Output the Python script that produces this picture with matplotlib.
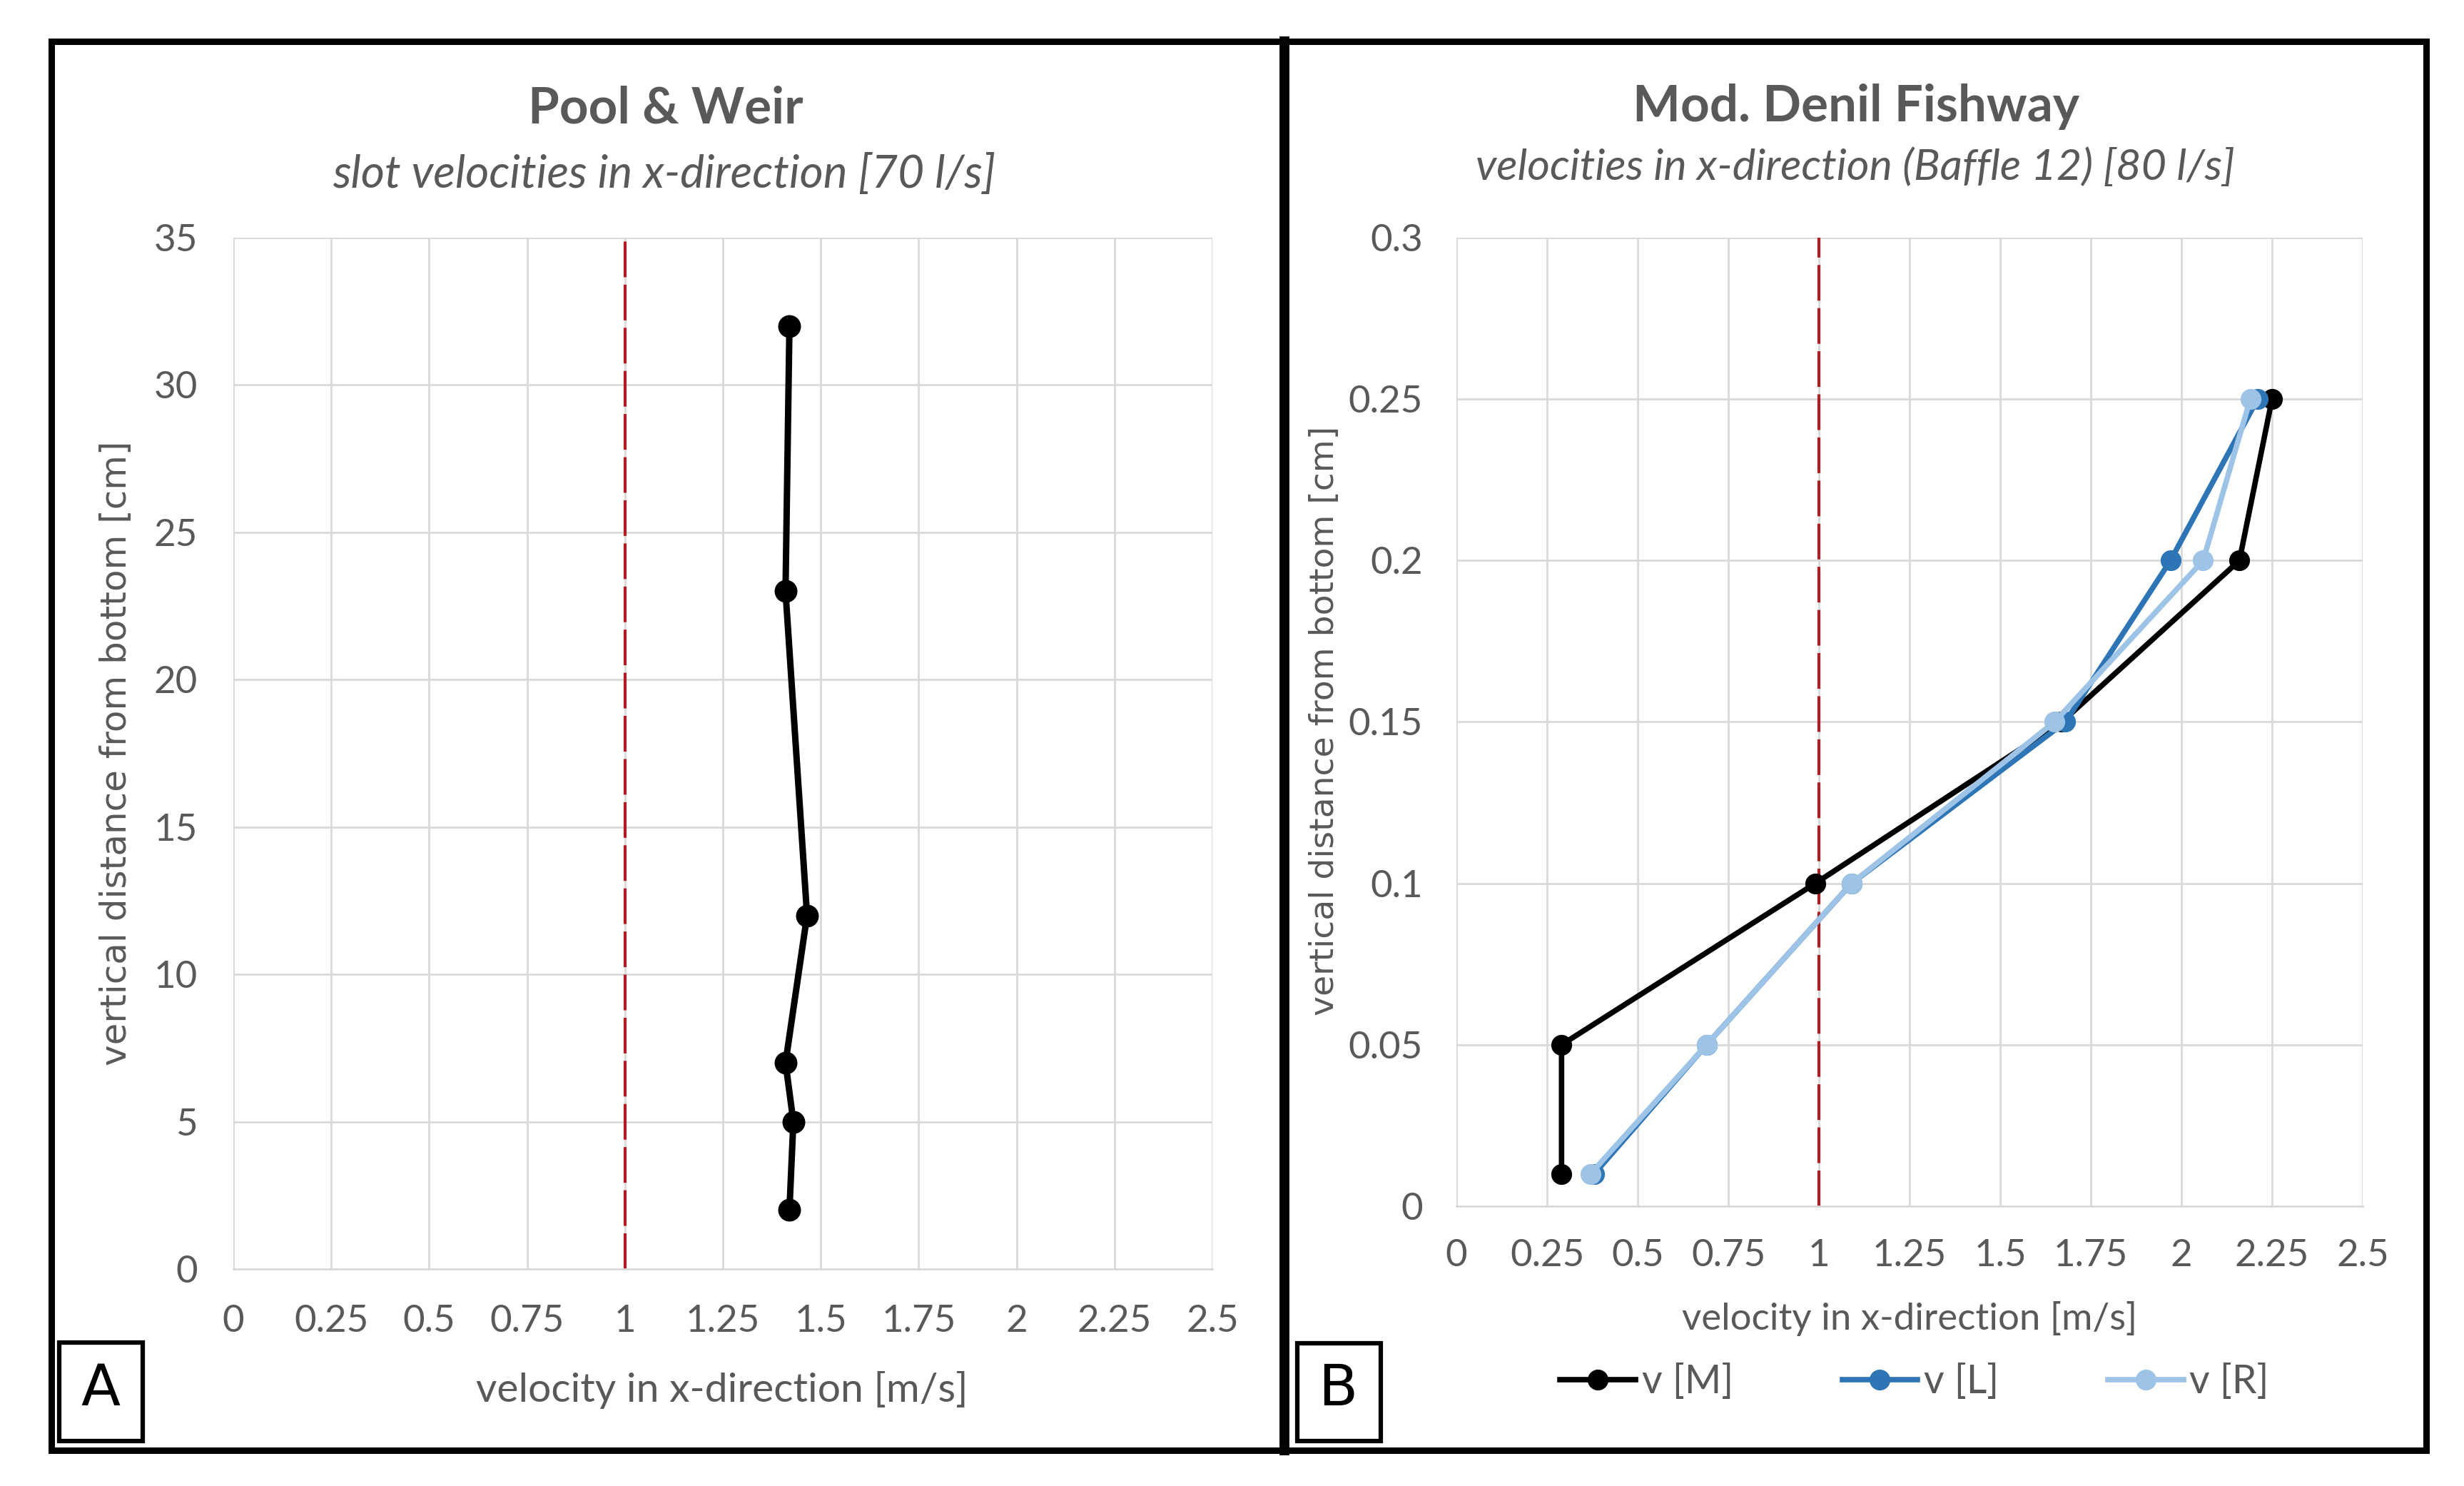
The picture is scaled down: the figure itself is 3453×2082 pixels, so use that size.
import matplotlib
matplotlib.use("Agg")
import matplotlib.pyplot as plt
from matplotlib.patches import Rectangle
from matplotlib.lines import Line2D

# ---------------- data ----------------
# Panel A: Pool & Weir
a_height = [2, 5, 7, 12, 23, 32]
a_velocity = [1.42, 1.43, 1.41, 1.465, 1.41, 1.42]
a_yticks = [0, 5, 10, 15, 20, 25, 30, 35]
a_ytick_labels = ["0", "5", "10", "15", "20", "25", "30", "35"]

# Panel B: Mod. Denil Fishway
b_height = [0.01, 0.05, 0.10, 0.15, 0.20, 0.25]
b_v_M = [0.29, 0.29, 0.99, 1.67, 2.16, 2.25]
b_v_L = [0.38, 0.69, 1.09, 1.68, 1.97, 2.21]
b_v_R = [0.37, 0.69, 1.09, 1.65, 2.06, 2.19]
b_series_names = ["v [M]", "v [L]", "v [R]"]
b_yticks = [0, 0.05, 0.10, 0.15, 0.20, 0.25, 0.30]
b_ytick_labels = ["0", "0.05", "0.1", "0.15", "0.2", "0.25", "0.3"]

x_ticks = [0, 0.25, 0.5, 0.75, 1, 1.25, 1.5, 1.75, 2, 2.25, 2.5]
x_tick_labels = ["0", "0.25", "0.5", "0.75", "1", "1.25", "1.5", "1.75", "2", "2.25", "2.5"]
threshold_velocity = 1.0

# ---------------- style ----------------
TXT = "#595959"
GRID = "#D9D9D9"
RED = "#B01E23"
C_M = "#000000"
C_L = "#2E75B6"
C_R = "#9DC3E6"
FONT = "Lato"
WIDE = "DejaVu Sans"

W, H = 3453, 2082
fig = plt.figure(figsize=(W / 100, H / 100), dpi=100)
fig.patch.set_facecolor("white")


def fx(px):
    return px / W


def fy(py):
    return 1 - py / H


def style_axes(ax, yticks, ylabels, ypad, xpad):
    ax.set_xlim(0, 2.5)
    ax.set_ylim(yticks[0], yticks[-1])
    ax.set_xticks(x_ticks)
    ax.set_xticklabels(x_tick_labels, fontfamily=FONT)
    ax.set_yticks(yticks)
    ax.set_yticklabels(ylabels, fontfamily=FONT)
    ax.grid(True, color=GRID, linewidth=2.0)
    ax.set_axisbelow(True)
    for s in ax.spines.values():
        s.set_visible(False)
    ax.spines["bottom"].set_visible(True)
    ax.spines["bottom"].set_color(GRID)
    ax.spines["bottom"].set_linewidth(2.0)
    ax.tick_params(axis="both", length=0, labelsize=38, labelcolor=TXT)
    ax.tick_params(axis="y", pad=ypad)
    ax.tick_params(axis="x", pad=xpad)
    ax.axvline(threshold_velocity, color=RED, linewidth=3.0,
               dashes=(12, 2.5), zorder=2)


# ---------------- Panel A ----------------
axA = fig.add_axes([fx(327), fy(1778), fx(1699 - 327), (1778 - 333) / H])
style_axes(axA, a_yticks, a_ytick_labels, ypad=36, xpad=36)
axA.plot(a_velocity, a_height, color=C_M, linewidth=6.5, marker="o",
         markersize=22, zorder=3)

fig.text(fx(933), fy(152), "Pool & Weir", ha="center", va="center",
         fontsize=51, fontweight="bold", color=TXT, fontfamily=FONT)
fig.text(fx(931), fy(244), "slot velocities in x-direction [70 l/s]",
         ha="center", va="center", fontsize=46, fontstyle="italic",
         color=TXT, fontfamily=FONT)
fig.text(fx(1012), fy(1947), "velocity in x-direction [m/s]",
         ha="center", va="center", fontsize=41, color=TXT, fontfamily=FONT)
fig.text(fx(163), fy(1055), "vertical distance from bottom [cm]",
         ha="center", va="center", rotation=90, fontsize=36, color=TXT,
         fontfamily=WIDE)

# ---------------- Panel B ----------------
axB = fig.add_axes([fx(2041), fy(1690), fx(3311 - 2041), (1690 - 333) / H])
style_axes(axB, b_yticks, b_ytick_labels, ypad=34, xpad=33)
for vals, col, name in zip([b_v_M, b_v_L, b_v_R], [C_M, C_L, C_R],
                           b_series_names):
    axB.plot(vals, b_height, color=col, linewidth=5.5, marker="o",
             markersize=20, label=name, zorder=3)

fig.text(fx(2601), fy(150), "Mod. Denil Fishway", ha="center", va="center",
         fontsize=51, fontweight="bold", color=TXT, fontfamily=FONT)
fig.text(fx(2600), fy(234), "velocities in x-direction (Baffle 12) [80 l/s]",
         ha="center", va="center", fontsize=44, fontstyle="italic",
         color=TXT, fontfamily=FONT)
fig.text(fx(2676), fy(1847), "velocity in x-direction [m/s]",
         ha="center", va="center", fontsize=38, color=TXT, fontfamily=FONT)
fig.text(fx(1857), fy(1010), "vertical distance from bottom [cm]",
         ha="center", va="center", rotation=90, fontsize=34, color=TXT,
         fontfamily=WIDE)

handles, labels = axB.get_legend_handles_labels()
leg = fig.legend(handles, labels, loc="center", bbox_to_anchor=(fx(2683), fy(1937)),
                 ncol=3, frameon=False, handlelength=1.9, handletextpad=0.16,
                 columnspacing=2.75, prop={"family": FONT, "size": 40})
for t in leg.get_texts():
    t.set_color(TXT)

# ---------------- frames and panel letters ----------------
fig.add_artist(Rectangle((fx(72), fy(2032)), fx(3400 - 72), (2032 - 58) / H,
                         transform=fig.transFigure, fill=False,
                         edgecolor="black", linewidth=6.5))
fig.add_artist(Line2D([fx(1800), fx(1800)], [fy(58), fy(2032)],
                      transform=fig.transFigure, color="black", linewidth=10))

for (x0, x1, y0, y1, cx, letter) in [(83, 200, 1881, 2019, 141, "A"),
                                     (1818, 1935, 1882, 2019, 1875, "B")]:
    fig.add_artist(Rectangle((fx(x0), fy(y1)), fx(x1 - x0), (y1 - y0) / H,
                             transform=fig.transFigure, fill=False,
                             edgecolor="black", linewidth=4.5))
    fig.text(fx(cx), fy(1947), letter, ha="center", va="center",
             fontsize=58, color="black", fontfamily=WIDE)

fig.savefig("out.png", dpi=100, facecolor="white")
